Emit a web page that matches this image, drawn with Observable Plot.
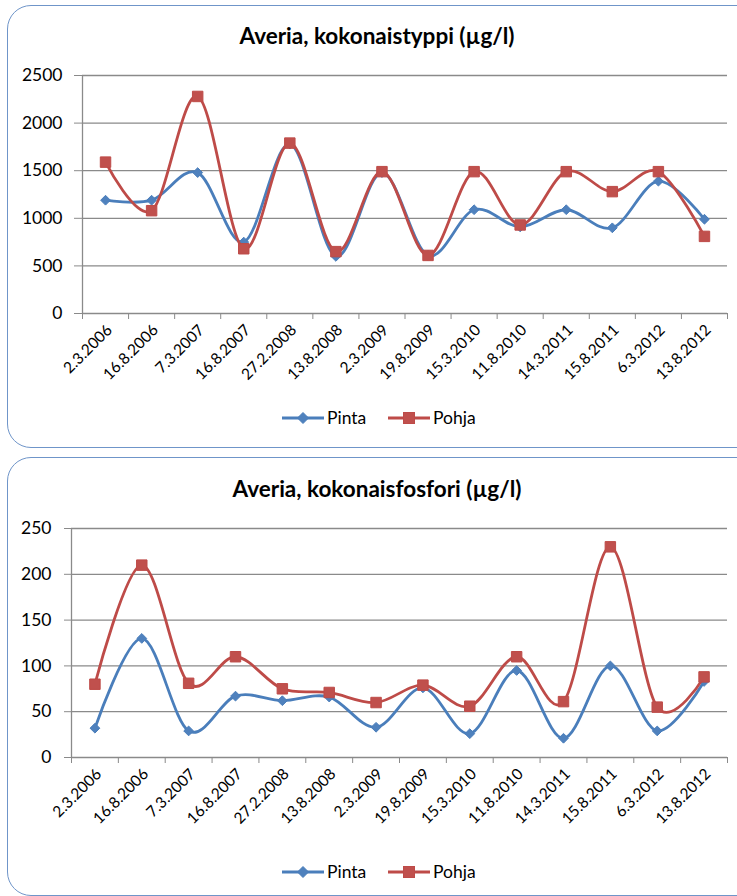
<!DOCTYPE html>
<html><head><meta charset="utf-8">
<script src="https://cdn.jsdelivr.net/npm/d3@7"></script>
<script src="https://cdn.jsdelivr.net/npm/@observablehq/plot@0.6"></script>
<style>
body{margin:0;background:#fff;width:737px;height:896px;overflow:hidden;position:relative;font-family:Lato,"Open Sans",sans-serif;color:#000;}
.panel{position:absolute;left:7px;width:780px;border:1.5px solid #6f95c9;border-radius:24px;background:#fff;box-sizing:border-box;}
.title{position:absolute;left:7px;width:740px;text-align:center;font-weight:bold;font-size:22.5px;line-height:26px;}
.chart{position:absolute;left:0;}
.legend{position:absolute;left:0;width:737px;font-size:17.5px;line-height:20px;}
.legend .item{display:flex;align-items:center;position:absolute;}
.legend svg{display:block;margin-right:3px;}
</style></head>
<body>
<div class="panel" style="top:5px;height:443px;"></div>
<div class="panel" style="top:457px;height:439px;"></div>
<div class="title" style="top:23px;">Averia, kokonaistyppi (µg/l)</div>
<div class="title" style="top:476px;">Averia, kokonaisfosfori (µg/l)</div>
<div id="c1" class="chart" style="top:60px;"></div>
<div id="c2" class="chart" style="top:510px;"></div>
<div id="l1" class="legend" style="top:408px;"></div>
<div id="l2" class="legend" style="top:862px;"></div>
<script>
const dates = ["2.3.2006","16.8.2006","7.3.2007","16.8.2007","27.2.2008","13.8.2008","2.3.2009","19.8.2009","15.3.2010","11.8.2010","14.3.2011","15.8.2011","6.3.2012","13.8.2012"];
const seriesNames = ["Pinta","Pohja"];
const typpiPinta = [1190,1190,1480,750,1780,600,1480,610,1090,910,1090,900,1390,990];
const typpiPohja = [1590,1080,2280,680,1790,650,1490,610,1490,930,1490,1280,1490,810];
const fosforiPinta = [32,130,29,67,62,66,33,76,26,95,21,100,29,83];
const fosforiPohja = [80,210,81,110,75,71,60,79,56,110,61,230,55,88];
const typpiTicks = [0,500,1000,1500,2000,2500];
const fosforiTicks = [0,50,100,150,200,250];

const blueLine = "#4a7ebb", blueFill = "#4f81bd";
const redLine = "#be4b48", redFill = "#c0504d";
const gridColor = "#8a8a8a";
const diamond = d3.symbolDiamond2 || d3.symbolDiamond;

function chart(pinta, pohja, ticks, opts) {
  const n = dates.length;
  const bounds = d3.range(n + 1);
  const centers = d3.range(n).map(i => i + 0.5);
  return Plot.plot({
    width: 737,
    height: opts.height,
    marginTop: opts.marginTop,
    marginLeft: opts.marginLeft,
    marginRight: 10,
    marginBottom: opts.marginBottom,
    style: {fontFamily: "Lato, 'Open Sans', sans-serif", fontSize: "17px", color: "#000", background: "transparent"},
    x: {domain: [0, n], axis: null},
    y: {domain: [ticks[0], ticks[ticks.length - 1]], axis: null},
    marks: [
      Plot.ruleY(ticks.slice(1), {stroke: gridColor, strokeWidth: 1.3}),
      Plot.ruleY([0], {stroke: gridColor, strokeWidth: 1.3}),
      Plot.ruleX([0], {stroke: gridColor, strokeWidth: 1.3}),
      Plot.axisY({ticks, tickSize: opts.yTick, tickPadding: opts.yPad, stroke: gridColor, fill: "#000", fontSize: 17.5, tickFormat: d => String(d)}),
      Plot.axisX({ticks: bounds, tickSize: 6, stroke: gridColor, tickFormat: () => ""}),
      Plot.axisX({ticks: centers, tickSize: 0, tickPadding: opts.xPad, tickRotate: -45, dx: 4, fill: "#000", fontSize: 15.5, tickFormat: d => dates[Math.round(d - 0.5)]}),
      Plot.line(pinta, {x: (d, i) => i + 0.5, y: d => d, curve: "cardinal", tension: 0, stroke: blueLine, strokeWidth: 2.8}),
      Plot.dot(pinta, {x: (d, i) => i + 0.5, y: d => d, symbol: diamond, r: 4.4, fill: blueFill, stroke: blueLine, strokeWidth: 1}),
      Plot.line(pohja, {x: (d, i) => i + 0.5, y: d => d, curve: "cardinal", tension: 0, stroke: redLine, strokeWidth: 2.8}),
      Plot.dot(pohja, {x: (d, i) => i + 0.5, y: d => d, symbol: "square", r: 5.9, fill: redFill, stroke: redLine, strokeWidth: 1})
    ]
  });
}

document.getElementById("c1").append(chart(typpiPinta, typpiPohja, typpiTicks,
  {height: 340, marginTop: 15, marginLeft: 82, marginBottom: 87, yTick: 8, yPad: 12, xPad: 14}));
document.getElementById("c2").append(chart(fosforiPinta, fosforiPohja, fosforiTicks,
  {height: 330, marginTop: 18, marginLeft: 71, marginBottom: 83, yTick: 7, yPad: 13, xPad: 14}));

function legend(el) {
  const items = [
    {name: seriesNames[0], line: blueLine, fill: blueFill, sym: "diamond", left: 282},
    {name: seriesNames[1], line: redLine, fill: redFill, sym: "square", left: 388}
  ];
  for (const it of items) {
    const div = document.createElement("div");
    div.className = "item";
    div.style.left = it.left + "px";
    const w = 42, h = 20;
    const marker = it.sym === "diamond"
      ? `<path d="M${w/2},${h/2-5.5}L${w/2+5.5},${h/2}L${w/2},${h/2+5.5}L${w/2-5.5},${h/2}Z" fill="${it.fill}" stroke="${it.line}"/>`
      : `<rect x="${w/2-5.5}" y="${h/2-5.5}" width="11" height="11" fill="${it.fill}" stroke="${it.line}"/>`;
    div.innerHTML = `<svg width="${w}" height="${h}"><line x1="0" x2="${w}" y1="${h/2}" y2="${h/2}" stroke="${it.line}" stroke-width="2.8"/>${marker}</svg><span>${it.name}</span>`;
    el.append(div);
  }
}
legend(document.getElementById("l1"));
legend(document.getElementById("l2"));
</script>
</body></html>
